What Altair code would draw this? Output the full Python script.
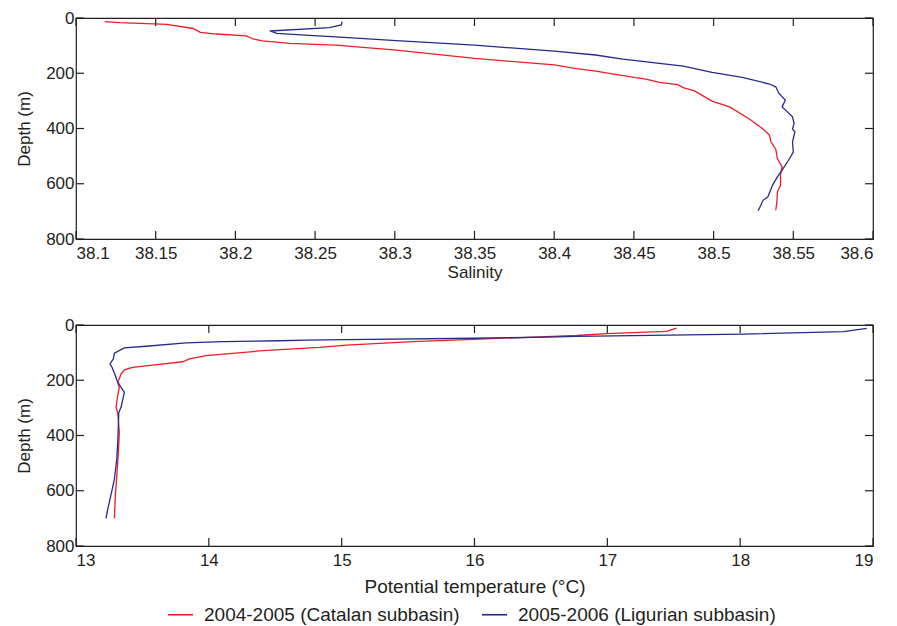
import altair as alt
import pandas as pd

series_names = ["2004-2005 (Catalan subbasin)", "2005-2006 (Ligurian subbasin)"]
series_colors = ["#f01c24", "#262a8c"]

# Salinity profiles (depth in m, salinity)
sal_cat_depth = [13, 17, 23, 38, 52, 58, 65, 76, 83, 92, 98, 116, 146, 170, 183, 192, 216, 221, 233, 241,
                 252, 264, 301, 322, 364, 402, 424, 448, 475, 509, 539, 563, 605, 630, 666, 696]
sal_cat_value = [38.118, 38.1275, 38.157, 38.1735, 38.178, 38.188, 38.207, 38.211, 38.217, 38.234, 38.263,
                 38.301, 38.350, 38.400, 38.414, 38.426, 38.451, 38.4575, 38.466, 38.4775, 38.481, 38.488,
                 38.499, 38.510, 38.522, 38.531, 38.535, 38.536, 38.539, 38.540, 38.543, 38.542, 38.542,
                 38.540, 38.5397, 38.539]

sal_lig_depth = [13, 25, 35, 47, 56, 64, 68, 82, 98, 120, 134, 149, 174, 197, 215, 239, 249, 273, 297, 322,
                 358, 382, 402, 412, 448, 485, 515, 551, 575, 605, 648, 660, 698]
sal_lig_value = [38.2669, 38.2665, 38.259, 38.2216, 38.226, 38.249, 38.263, 38.301, 38.350, 38.400, 38.426,
                 38.443, 38.481, 38.499, 38.518, 38.535, 38.539, 38.541, 38.545, 38.543, 38.5495, 38.5505,
                 38.5495, 38.551, 38.5495, 38.550, 38.547, 38.543, 38.540, 38.537, 38.534, 38.531, 38.528]

# Potential temperature profiles (depth in m, degC)
tem_cat_depth = [11, 15, 23, 31, 38, 42, 51, 60, 73, 81, 93, 111, 123, 133, 145, 153, 162, 178, 208, 226,
                 256, 298, 317, 389, 462, 534, 619, 700]
tem_cat_value = [17.521, 17.497, 17.446, 16.994, 16.768, 16.54, 16.04, 15.537, 15.035, 14.834, 14.407,
                 13.98, 13.854, 13.804, 13.578, 13.427, 13.364, 13.339, 13.314, 13.326, 13.314, 13.301,
                 13.314, 13.326, 13.319, 13.309, 13.296, 13.289]

tem_lig_depth = [12, 24, 33, 41, 44, 48, 53, 55, 57, 60, 65, 77, 83, 102, 123, 141, 153, 183, 202, 226,
                 244, 298, 317, 365, 425, 486, 558, 613, 667, 700]
tem_lig_value = [18.953, 18.778, 18.024, 16.768, 16.542, 15.99, 15.035, 14.733, 14.532, 14.106, 13.829,
                 13.528, 13.364, 13.289, 13.281, 13.256, 13.271, 13.296, 13.309, 13.339, 13.364, 13.339,
                 13.322, 13.319, 13.314, 13.307, 13.289, 13.264, 13.239, 13.226]

sal_ticks = [38.1, 38.15, 38.2, 38.25, 38.3, 38.35, 38.4, 38.45, 38.5, 38.55, 38.6]
tem_ticks = [13, 14, 15, 16, 17, 18, 19]
depth_ticks = [0, 200, 400, 600, 800]


def frame(depths, values, name):
    return pd.DataFrame({"depth": depths, "value": values, "series": name,
                         "idx": list(range(len(depths)))})


sal_df = pd.concat([frame(sal_cat_depth, sal_cat_value, series_names[0]),
                    frame(sal_lig_depth, sal_lig_value, series_names[1])], ignore_index=True)
tem_df = pd.concat([frame(tem_cat_depth, tem_cat_value, series_names[0]),
                    frame(tem_lig_depth, tem_lig_value, series_names[1])], ignore_index=True)

W, H = 797, 221
TICK = 8
INK = "#231f20"
FONT = "Liberation Sans"


def panel(df, xdomain, xticks, xfmt, xtitle, title_pad, title_size):
    sx = alt.Scale(domain=xdomain, nice=False, zero=False)
    sy = alt.Scale(domain=[0, 800], reverse=True, nice=False, zero=False)
    x_axis = alt.Axis(values=xticks, format=xfmt, ticks=False, domain=False,
                      grid=False, title=xtitle, labelPadding=6, titlePadding=title_pad,
                      titleFontSize=title_size)
    y_axis = alt.Axis(values=depth_ticks, format="d", ticks=False, domain=False,
                      grid=False, title="Depth (m)", labelPadding=2, titlePadding=12)
    lines = alt.Chart(df).mark_line(strokeWidth=1.3).encode(
        x=alt.X("value:Q", scale=sx, axis=x_axis),
        y=alt.Y("depth:Q", scale=sy, axis=y_axis),
        color=alt.Color("series:N", scale=alt.Scale(domain=series_names, range=series_colors),
                        legend=alt.Legend(orient="none", legendX=91, legendY=583, title=None,
                                          direction="horizontal",
                                          symbolType="stroke", symbolSize=625, symbolStrokeWidth=1.6,
                                          labelFontSize=19, labelFont=FONT, labelColor=INK,
                                          labelLimit=0, columnPadding=18, labelOffset=10)),
        order="idx:Q",
    )
    xt = alt.Chart(pd.DataFrame({"t": xticks}))
    yt = alt.Chart(pd.DataFrame({"t": depth_ticks}))
    rule = dict(color=INK, strokeWidth=1.2)
    x_bottom = xt.mark_rule(**rule).encode(x=alt.X("t:Q", scale=sx, axis=x_axis),
                                          y=alt.value(H), y2=alt.value(H - TICK))
    x_top = xt.mark_rule(**rule).encode(x=alt.X("t:Q", scale=sx, axis=x_axis),
                                       y=alt.value(0), y2=alt.value(TICK))
    y_left = yt.mark_rule(**rule).encode(y=alt.Y("t:Q", scale=sy, axis=y_axis),
                                        x=alt.value(0), x2=alt.value(TICK))
    y_right = yt.mark_rule(**rule).encode(y=alt.Y("t:Q", scale=sy, axis=y_axis),
                                         x=alt.value(W), x2=alt.value(W - TICK))
    return alt.layer(lines, x_bottom, x_top, y_left, y_right).properties(width=W, height=H)


top = panel(sal_df, [38.1, 38.6], sal_ticks, ".2~f", "Salinity", 3.5, 17)
bottom = panel(tem_df, [13, 19], tem_ticks, "d", "Potential temperature (°C)", 9.5, 19)

chart = alt.vconcat(top, bottom, spacing=33).properties(
    padding={"top": 0, "left": 7, "right": 0, "bottom": 2}
).configure(
    background="white"
).configure_view(
    stroke=INK, strokeWidth=1.2
).configure_axis(
    labelFont=FONT, titleFont=FONT, labelFontSize=17, titleFontSize=17,
    labelColor=INK, titleColor=INK, titleFontWeight="normal"
)

chart.save("out.html", embed_options={"renderer": "svg", "actions": False})
